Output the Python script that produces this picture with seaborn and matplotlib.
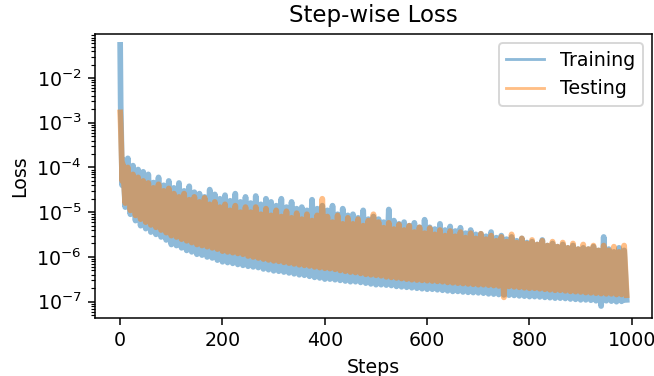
import numpy as np
import pandas as pd
import matplotlib
matplotlib.use("Agg")
import matplotlib.pyplot as plt
import seaborn as sns

# Step-wise loss values
# (steps 0-4, then every 5 steps up to 990)
early_steps = [0, 1, 2, 3, 4]
later_steps = list(range(5, 991, 5))
steps = early_steps + later_steps

train_loss = [
    5.5e-2, 2.5e-3, 6e-4, 1.5e-4, 4e-5,
    1.5e-4, 1.3e-5, 1.6e-4, 9e-6, 1.1e-4, 6.5e-6, 9e-5, 5e-6, 8e-5, 4.3e-6,
    7e-5, 3.6e-6, 4.6e-5, 3.2e-6, 6e-5, 2.8e-6, 4e-5, 2.4e-6, 5e-5, 1.9e-6,
    3.5e-5, 1.8e-6, 4.5e-5, 1.6e-6, 3e-5, 1.4e-6, 3.8e-5, 1.3e-6, 2.8e-5, 1.15e-6,
    2.6e-5, 1.1e-6, 2.2e-5, 1e-6, 3.2e-5, 9.5e-7, 2.5e-5, 8.5e-7, 2e-5, 7.8e-7,
    2.4e-5, 7.5e-7, 1.8e-5, 7.2e-7, 2.6e-5, 6.8e-7, 1.7e-5, 6.5e-7, 2.2e-5, 6.2e-7,
    1.6e-5, 6e-7, 2.3e-5, 5.8e-7, 1.5e-5, 5.4e-7, 2e-5, 5.2e-7, 1.7e-5, 4.9e-7,
    1.4e-5, 4.8e-7, 2e-5, 4.6e-7, 1.3e-5, 4.4e-7, 1.7e-5, 4.2e-7, 1.2e-5, 4e-7,
    1.3e-5, 3.9e-7, 1.1e-5, 3.7e-7, 1.9e-5, 3.5e-7, 1.2e-5, 3.4e-7, 1.4e-5, 3.2e-7,
    1.1e-5, 3.2e-7, 1.4e-5, 3.1e-7, 9e-6, 3e-7, 1.2e-5, 2.9e-7, 8.5e-6, 2.8e-7,
    9e-6, 2.8e-7, 7.5e-6, 2.7e-7, 1.1e-5, 2.6e-7, 7e-6, 2.5e-7, 8e-6, 2.4e-7,
    7e-6, 2.4e-7, 6e-6, 2.35e-7, 1.15e-5, 2.3e-7, 6.5e-6, 2.2e-7, 5.5e-6, 2.15e-7,
    6e-6, 2.1e-7, 5e-6, 2.05e-7, 5.8e-6, 2e-7, 4.6e-6, 1.95e-7, 6.8e-6, 1.9e-7,
    4.6e-6, 1.9e-7, 4.2e-6, 1.85e-7, 5.5e-6, 1.8e-7, 4e-6, 1.75e-7, 4.8e-6, 1.7e-7,
    3.8e-6, 1.7e-7, 4.5e-6, 1.65e-7, 3.4e-6, 1.62e-7, 4e-6, 1.6e-7, 3.2e-6, 1.58e-7,
    3.3e-6, 1.55e-7, 2.9e-6, 1.5e-7, 3.6e-6, 1.48e-7, 2.7e-6, 1.45e-7, 3e-6, 1.42e-7,
    2.5e-6, 1.4e-7, 2.8e-6, 1.38e-7, 2.3e-6, 1.35e-7, 2.6e-6, 1.33e-7, 2.1e-6, 1.3e-7,
    2.2e-6, 1.3e-7, 1.9e-6, 1.28e-7, 2.4e-6, 1.25e-7, 1.8e-6, 1.23e-7, 2e-6, 1.2e-7,
    1.7e-6, 1.2e-7, 1.9e-6, 1.18e-7, 1.6e-6, 1.15e-7, 1.8e-6, 1.13e-7, 1.5e-6, 1.1e-7,
    1.6e-6, 1.1e-7, 1.5e-6, 1.08e-7, 1.7e-6, 1.05e-7, 1.4e-6, 8e-8, 2.8e-6, 1.05e-7,
    1.5e-6, 1.03e-7, 1.3e-6, 1e-7, 1.6e-6, 1.02e-7, 1.4e-6, 1.1e-7,
]

test_loss = [
    1.7e-3, 9e-4, 4e-4, 1.5e-4, 5e-5,
    1.2e-4, 1.6e-5, 1e-4, 1.1e-5, 7e-5, 8.5e-6, 6e-5, 7e-6, 5e-5, 6e-6,
    4.5e-5, 5.2e-6, 3.5e-5, 4.6e-6, 4.2e-5, 4e-6, 3e-5, 3.5e-6, 3.4e-5, 3e-6,
    2.6e-5, 2.8e-6, 2.2e-5, 2.5e-6, 2.6e-5, 2.3e-6, 1.9e-5, 2.1e-6, 2.2e-5, 1.9e-6,
    1.7e-5, 1.8e-6, 2.1e-5, 1.7e-6, 1.5e-5, 1.6e-6, 1.7e-5, 1.5e-6, 1.3e-5, 1.35e-6,
    1.5e-5, 1.3e-6, 1.1e-5, 1.25e-6, 1.4e-5, 1.2e-6, 1e-5, 1.15e-6, 1.3e-5, 1.05e-6,
    1e-5, 1e-6, 1.3e-5, 9.5e-7, 9e-6, 9e-7, 1.2e-5, 8.6e-7, 8.5e-6, 8.2e-7,
    1.1e-5, 8e-7, 8e-6, 7.6e-7, 1.05e-5, 7.3e-7, 7.5e-6, 7e-7, 9.5e-6, 6.7e-7,
    7e-6, 6.5e-7, 9e-6, 6.3e-7, 6.5e-6, 6e-7, 8.5e-6, 5.8e-7, 2e-5, 5.6e-7,
    8e-6, 5.5e-7, 6e-6, 5.3e-7, 8.5e-6, 5e-7, 5.5e-6, 4.8e-7, 7.5e-6, 4.6e-7,
    5.5e-6, 4.5e-7, 7e-6, 4.3e-7, 5e-6, 4.1e-7, 6.5e-6, 4e-7, 9e-6, 3.9e-7,
    6e-6, 3.8e-7, 4.5e-6, 3.6e-7, 5.8e-6, 3.5e-7, 4.2e-6, 3.4e-7, 5.3e-6, 3.3e-7,
    4e-6, 3.2e-7, 5e-6, 3.1e-7, 3.6e-6, 3.05e-7, 4.6e-6, 3e-7, 3.4e-6, 2.95e-7,
    4.4e-6, 2.9e-7, 3.2e-6, 2.85e-7, 4e-6, 2.8e-7, 3e-6, 2.7e-7, 3.8e-6, 2.65e-7,
    2.9e-6, 2.6e-7, 3.6e-6, 2.55e-7, 2.7e-6, 2.5e-7, 3.4e-6, 2.45e-7, 2.6e-6, 2.4e-7,
    3.3e-6, 2.4e-7, 2.5e-6, 2.35e-7, 3e-6, 2.3e-7, 2.3e-6, 2.25e-7, 2.8e-6, 1.25e-7,
    2.2e-6, 2.2e-7, 3.2e-6, 2.15e-7, 2.1e-6, 2.1e-7, 2.6e-6, 2.05e-7, 2e-6, 2e-7,
    2.4e-6, 2e-7, 1.9e-6, 1.95e-7, 2.3e-6, 1.9e-7, 1.8e-6, 1.85e-7, 2.2e-6, 1.8e-7,
    1.7e-6, 1.8e-7, 2.1e-6, 1.75e-7, 1.6e-6, 1.7e-7, 2e-6, 1.68e-7, 1.5e-6, 1.65e-7,
    1.9e-6, 1.6e-7, 1.5e-6, 1.58e-7, 1.8e-6, 1.55e-7, 1.4e-6, 1.52e-7, 1.8e-6, 1.5e-7,
    1.4e-6, 1.5e-7, 1.7e-6, 1.45e-7, 1.3e-6, 1.45e-7, 1.8e-6, 1.4e-7,
]

df = pd.DataFrame({"Steps": steps, "Training": train_loss, "Testing": test_loss})

fig = plt.figure(figsize=(654 / 137, 376 / 137), dpi=137)
ax = fig.add_subplot(111)
fig.subplots_adjust(left=0.145, right=0.997, bottom=0.154, top=0.910)

# thicker strokes so the noisy band reads as solid, like the original
sns.lineplot(data=df, x="Steps", y="Training", ax=ax, label="Training",
             alpha=0.5, color="C0", linewidth=3, estimator=None, sort=False)
sns.lineplot(data=df, x="Steps", y="Testing", ax=ax, label="Testing",
             alpha=0.5, color="C1", linewidth=3, estimator=None, sort=False)

ax.set_yscale("log")
ax.set_ylim(4.3e-8, 0.097)
ax.set_title("Step-wise Loss")
ax.set_xlabel("Steps")
ax.set_ylabel("Loss")

leg = ax.legend(loc="upper right")
for line in leg.get_lines():
    line.set_linewidth(1.5)

fig.savefig("out.png", dpi=137)
